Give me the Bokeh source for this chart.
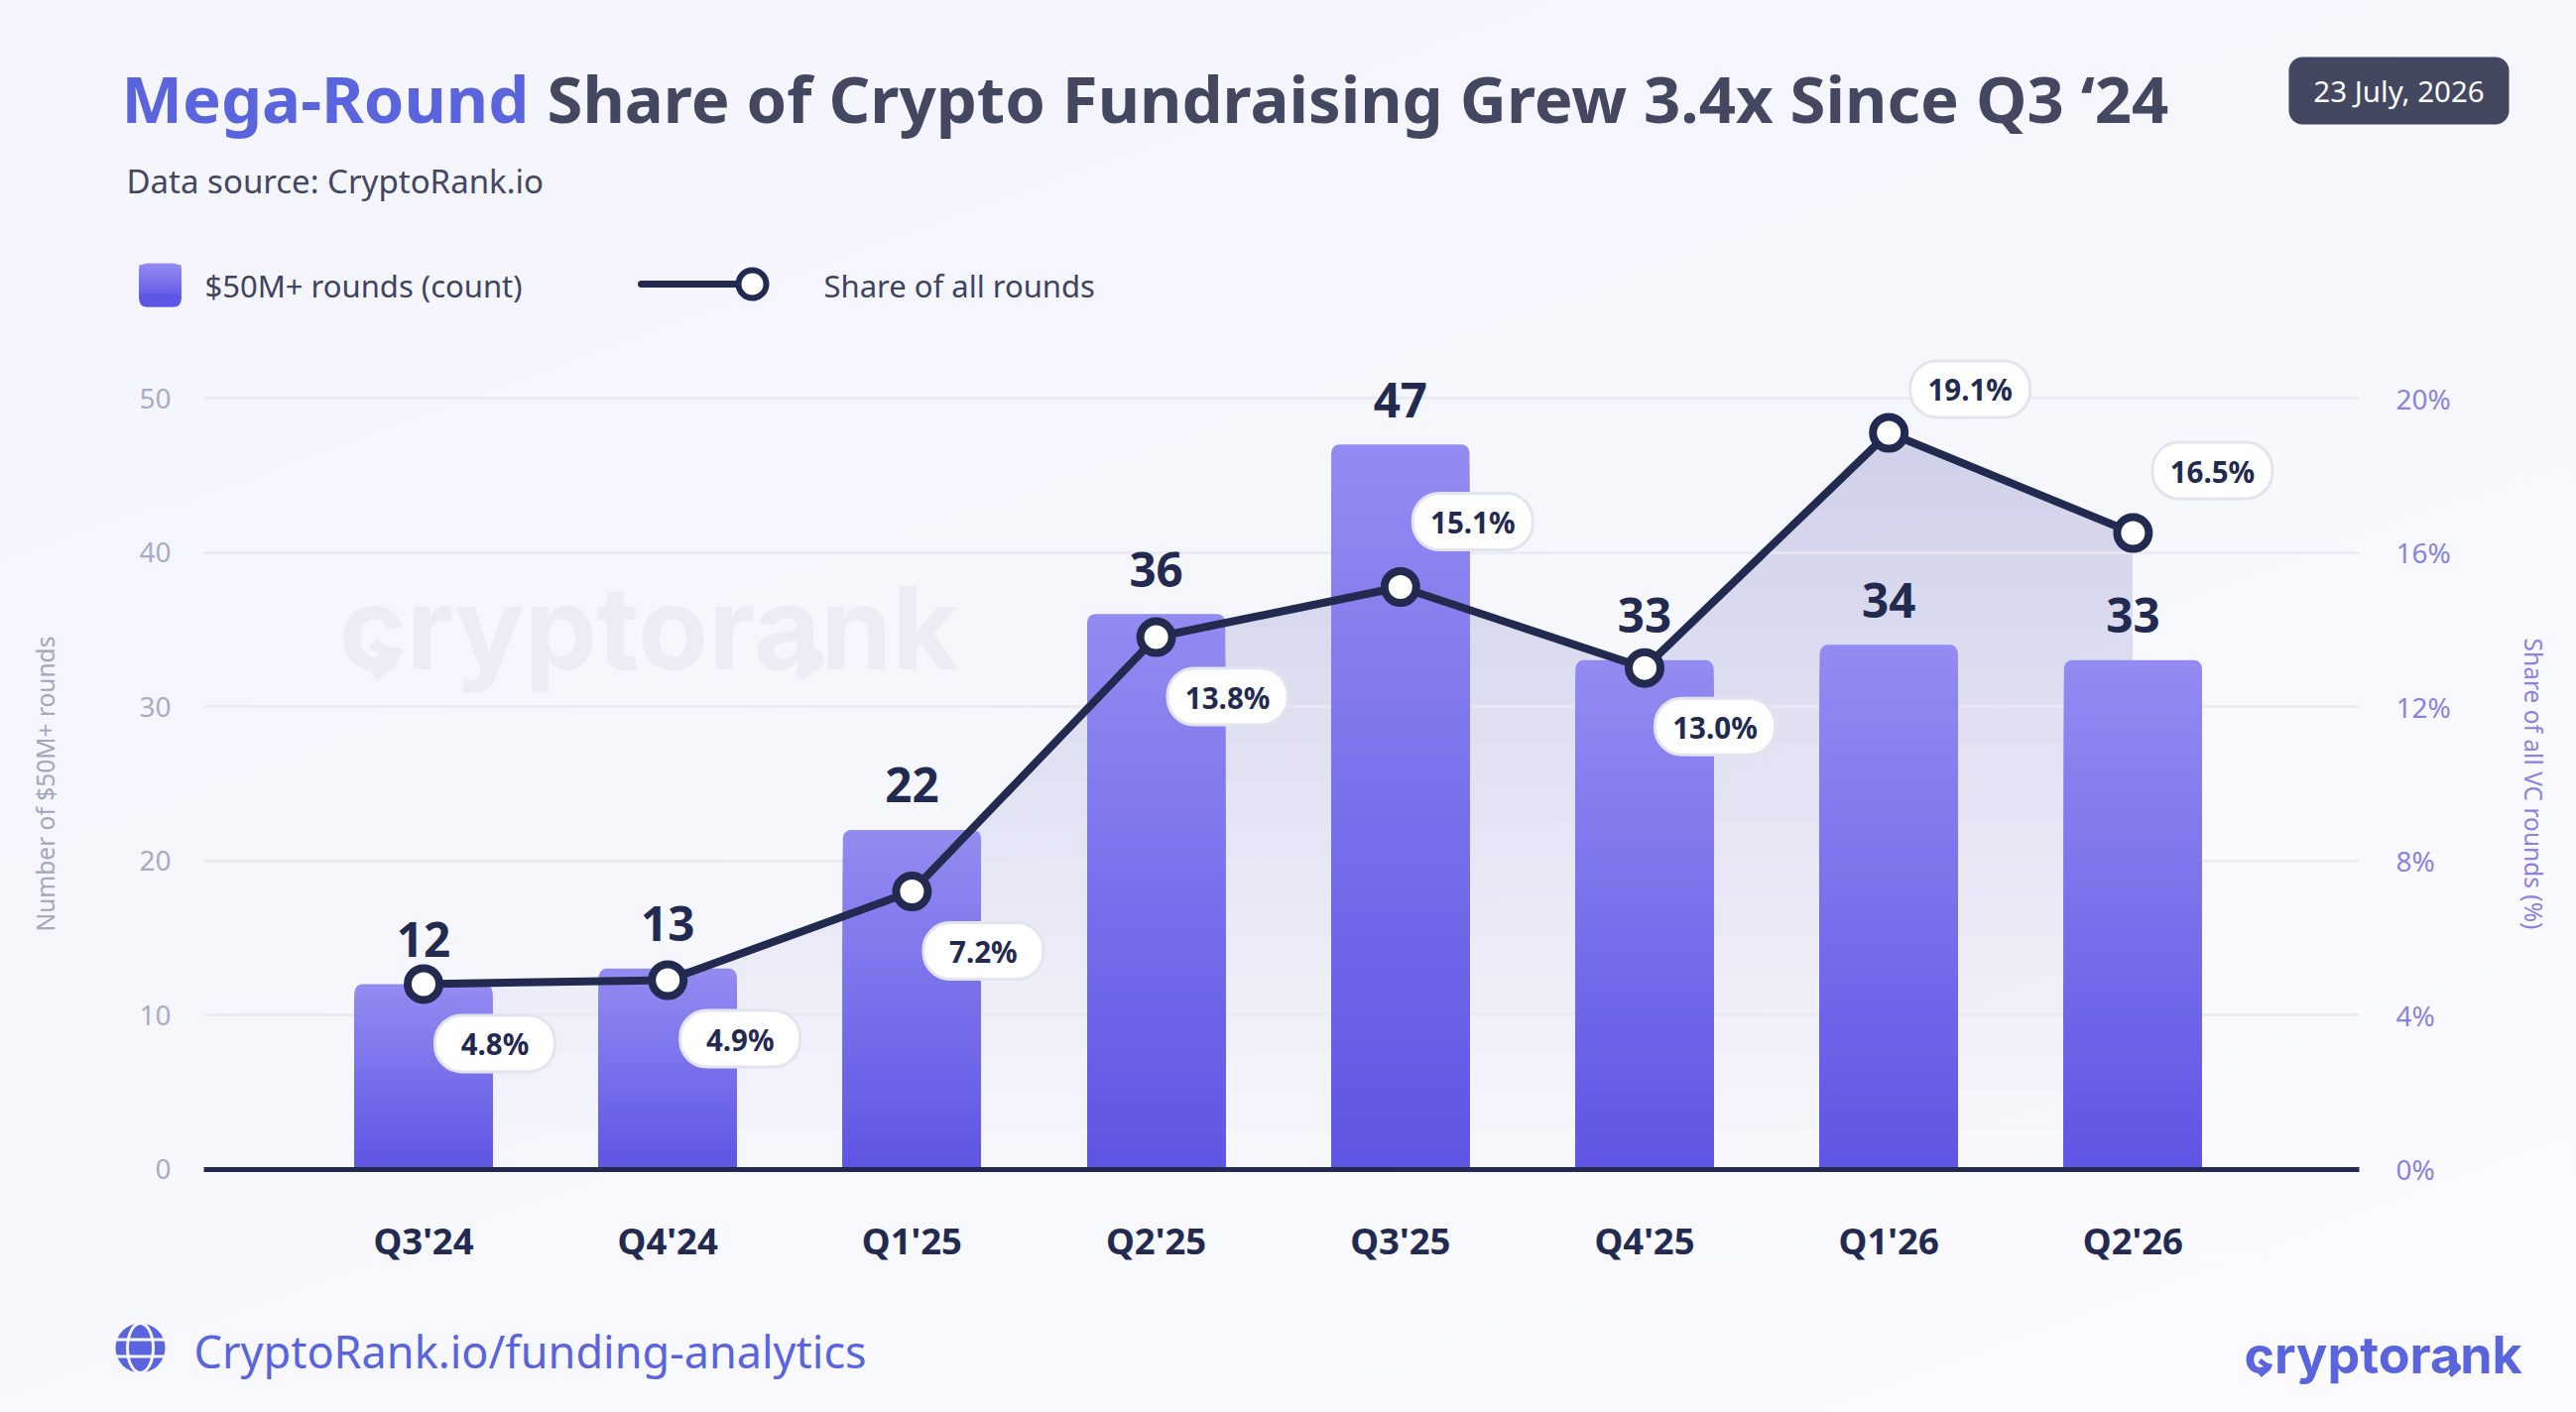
import numpy as np
from bokeh.embed import file_html
from bokeh.resources import INLINE
from bokeh.plotting import figure
from bokeh.layouts import column
from bokeh.models import Range1d, LinearAxis, FixedTicker, Grid
from bokeh.core.properties import value

quarters = ["Q3'24", "Q4'24", "Q1'25", "Q2'25", "Q3'25", "Q4'25", "Q1'26", "Q2'26"]
rounds_count = [12, 13, 22, 36, 47, 33, 34, 33]
share_pct = [4.8, 4.9, 7.2, 13.8, 15.1, 13.0, 19.1, 16.5]
share_labels = ["4.8%", "4.9%", "7.2%", "13.8%", "15.1%", "13.0%", "19.1%", "16.5%"]
left_ticks = [0, 10, 20, 30, 40, 50]
right_ticks = [0, 4, 8, 12, 16, 20]

# pixel offset of each pill relative to its point
pill_dx = [72, 73, 72, 72, 73, 71, 82, 80]
pill_dy = [60, 59, 60, 60, -66, 59, -44, -63]

REG = "Noto Sans"
NAVY = "#232a50"
SLATE = "#43475f"
BLUE = "#5a64dd"
BG = "#f7f8fd"
W, H = 2597, 1424
F_L, F_R, F_T, F_B = 205, 2378, 330, 1179
STEP = 246.2
X0 = (F_L - 426.5) / STEP
X1 = (F_R - 426.5) / STEP
PX_Y = 15.55
YMIN = -0.5 / PX_Y
YMAX = YMIN + (F_B - F_T) / PX_Y
BAR_W = 139 / STEP
TOP_C = np.array([147, 139, 241.0])
BOT_C = np.array([93, 85, 228.0])
BASE_SHIFT = 0.37  # bokeh draws "alphabetic" text this many em below the given y


def hexc(c):
    return "#%02x%02x%02x" % tuple(int(round(v)) for v in c)


# ---------- backdrop figure: page coordinates, holds everything outside the plot frame ----------
bg = figure(width=W, height=H, output_backend="svg", toolbar_location=None, frame_align=False,
            x_range=Range1d(0, W), y_range=Range1d(H, 0),
            min_border=0, x_axis_location=None, y_axis_location=None, outline_line_color=None,
            background_fill_color=None, border_fill_color=None)
bg.grid.visible = False
bg.styles = {"background": "linear-gradient(160deg, #f4f5fd 0%, #f6f7fd 45%, #fbfbff 100%)"}


def txt(text, x, y, size, color, bold=False, align="left", font=REG):
    bg.text(x=[x], y=[y - BASE_SHIFT * size], text=[text], text_font=value(font), text_font_size=f"{size}px", text_color=color,
            text_font_style="bold" if bold else "normal", text_align=align, text_baseline="alphabetic")


def box(l, t, r, b, color, radius=0):
    bg.quad(left=[l], right=[r], top=[t], bottom=[b], fill_color=color, line_color=None, border_radius=radius)


def chevrons(x_text, baseline, scale, color, lw):
    # the two arrow marks of the logo, relative to the logo's text origin
    px = np.array([34.5, 56.0, 35.0]) * scale
    py = np.array([-23.7, -7.7, 10.3]) * scale
    for dx in (0, 429 * scale):
        bg.line(x=x_text + dx + px, y=baseline + py, line_color=color, line_width=lw)


# title
txt("Mega-Round", 122, 122.5, 65.2, BLUE, True)
txt("Share of Crypto Fundraising Grew 3.4x Since Q3 \u201824", 551, 122.5, 65.2, SLATE, True)
txt("Data source: CryptoRank.io", 127, 194, 33, SLATE)
# date badge
box(2307, 57, 2529, 125, SLATE, 14)
txt("23 July, 2026", 2418, 102, 29.5, "white", False, "center")
# legend
box(140, 265, 182, 309, hexc(TOP_C), 8)
n_sw = 24
for k in range(1, n_sw):
    f = k / n_sw
    box(140, 273 + 28 * f - 8 * (1 - f), 182, 301, hexc(TOP_C + (BOT_C - TOP_C) * f))
box(140, 296, 182, 309, hexc(BOT_C), 8)
txt("$50M+ rounds (count)", 206, 298.5, 31, "#3f4360")
bg.line(x=[646, 745], y=[286, 286], line_color=NAVY, line_width=7, line_cap="round")
bg.scatter(x=[758], y=[286], size=28, fill_color="white", line_color=NAVY, line_width=6)
txt("Share of all rounds", 830, 298.5, 31, "#3f4360")
# axis titles (centred on the 0-50 span, not on the taller frame)
bg.text(x=[45], y=[790], text=["Number of $50M+ rounds"], angle=np.pi / 2, text_font=value(REG), text_font_size="24.5px",
        text_color="#a3a7bc", text_align="center", text_baseline="middle")
bg.text(x=[2554], y=[790], text=["Share of all VC rounds (%)"], angle=-np.pi / 2, text_font=value(REG), text_font_size="24.5px",
        text_color="#8b84dc", text_align="center", text_baseline="middle")
# watermark
txt("cryptorank", 341, 675, 116, "#ecedf4", True, font="Inter")
chevrons(341, 671.7, 1.0, "#ecedf4", 12)
# footer globe
GX, GY = 141, 1359
bg.scatter(x=[GX], y=[GY], size=50, fill_color=BLUE, line_color=None)
bg.ellipse(x=[GX], y=[GY], width=26, height=50, width_units="screen", height_units="screen",
           fill_color=None, line_color=BG, line_width=3)
bg.segment(x0=[GX - 25, GX - 25], x1=[GX + 25, GX + 25], y0=[GY - 8.5, GY + 8.5], y1=[GY - 8.5, GY + 8.5],
           line_color=BG, line_width=3)
txt("CryptoRank.io/funding-analytics", 195, 1379, 45, BLUE)
# footer logo
txt("cryptorank", 2262, 1385, 52, BLUE, True, font="Inter")
chevrons(2262, 1382, 0.447, BLUE, 5)

# ---------- chart figure, transparent, laid exactly over the backdrop ----------
p = figure(width=W, height=H, output_backend="svg", toolbar_location=None, margin=(-H, 0, 0, 0), frame_align=False,
           x_range=Range1d(X0, X1), y_range=Range1d(YMIN, YMAX),
           min_border_left=F_L, min_border_right=W - F_R, min_border_top=F_T, min_border_bottom=H - F_B,
           x_axis_location=None, y_axis_location=None, outline_line_color=None,
           background_fill_color=None, border_fill_color=None)
p.grid.visible = False
p.extra_y_ranges = {"pct": Range1d(YMIN / 2.5, YMAX / 2.5)}

bottom = LinearAxis(ticker=FixedTicker(ticks=list(range(len(quarters)))),
                    major_label_overrides={i: q for i, q in enumerate(quarters)},
                    axis_line_color=NAVY, axis_line_width=5, major_tick_line_color=None, minor_tick_line_color=None,
                    major_label_text_font=REG, major_label_text_font_style="bold", major_label_text_font_size="36.5px",
                    major_label_text_color=NAVY, major_label_standoff=40)
p.add_layout(bottom, "below")
left = LinearAxis(ticker=FixedTicker(ticks=left_ticks), axis_line_color=None, major_tick_line_color=None,
                  minor_tick_line_color=None, major_label_text_font=REG, major_label_text_font_size="28px",
                  major_label_text_color="#a8acc2", major_label_standoff=27)
p.add_layout(left, "left")
right = LinearAxis(y_range_name="pct", ticker=FixedTicker(ticks=right_ticks), axis_line_color=None,
                   major_tick_line_color=None, minor_tick_line_color=None, major_label_text_font=REG,
                   major_label_text_font_size="28px", major_label_text_color="#8b84dc", major_label_standoff=31,
                   major_label_overrides={t: f"{t}%" for t in right_ticks})
p.add_layout(right, "right")

p.add_layout(Grid(dimension=1, ticker=FixedTicker(ticks=left_ticks[1:]), grid_line_color="#e9e9f3",
                  grid_line_width=2.5, level="underlay"))

# area under the share line: stacked translucent layers give a vertical gradient
xs_pts = np.arange(len(share_pct), dtype=float)
ys_pts = np.array(share_pct, dtype=float)
levels = np.linspace(0, max(share_pct), 20)
da = 0.17 / len(levels)
for lv in levels:
    cx = []
    for i in range(len(ys_pts) - 1):
        a, b = ys_pts[i], ys_pts[i + 1]
        if (a - lv) * (b - lv) < 0:
            cx.append(i + (lv - a) / (b - a))
    xg = np.array(sorted(set(list(xs_pts) + cx)))
    yg = np.interp(xg, xs_pts, ys_pts)
    p.varea(x=xg, y1=np.full_like(xg, lv), y2=np.maximum(yg, lv), y_range_name="pct",
            fill_color="#2e3163", fill_alpha=da, level="image")

# bars with a vertical gradient (overlapping slices so no seams)
R_DATA = 8 / PX_Y
for i, v in enumerate(rounds_count):
    p.quad(left=[i - BAR_W / 2], right=[i + BAR_W / 2], top=[v], bottom=[0], fill_color=hexc(TOP_C),
           line_color=None, border_radius=(8, 8, 0, 0))
    n = 60
    for k in range(1, n):
        top = v - R_DATA - (v - R_DATA) * (k - 1) / (n - 1)
        frac = 1 - top / v
        p.quad(left=[i - BAR_W / 2], right=[i + BAR_W / 2], top=[top], bottom=[0],
               fill_color=hexc(TOP_C + (BOT_C - TOP_C) * frac), line_color=None)

# share line and points
p.line(x=list(range(8)), y=share_pct, y_range_name="pct", line_color=NAVY, line_width=8, line_join="round")
p.scatter(x=list(range(8)), y=share_pct, y_range_name="pct", size=32, fill_color="white", line_color=NAVY, line_width=8)

# bar value labels
p.text(x=list(range(8)), y=rounds_count, text=[str(v) for v in rounds_count], y_offset=-45,
       text_font=value(REG), text_font_style="bold", text_font_size="47.5px", text_color=NAVY,
       text_align="center", text_baseline="alphabetic")

# pills
PW, PH = 121, 57
cx = [i + d / STEP for i, d in enumerate(pill_dx)]
cy = [s * 2.5 - d / PX_Y for s, d in zip(share_pct, pill_dy)]
p.quad(left=[c - PW / 2 / STEP for c in cx], right=[c + PW / 2 / STEP for c in cx],
       top=[c + PH / 2 / PX_Y for c in cy], bottom=[c - PH / 2 / PX_Y for c in cy],
       fill_color="white", line_color="#e4e4f0", line_width=3, border_radius=27)
p.text(x=cx, y=cy, text=share_labels, y_offset=0.5, text_font=value(REG), text_font_style="bold",
       text_font_size="29.5px", text_color=NAVY, text_align="center", text_baseline="alphabetic")

layout = column(bg, p, spacing=0)
open("out.html", "w").write(file_html(layout, INLINE))
